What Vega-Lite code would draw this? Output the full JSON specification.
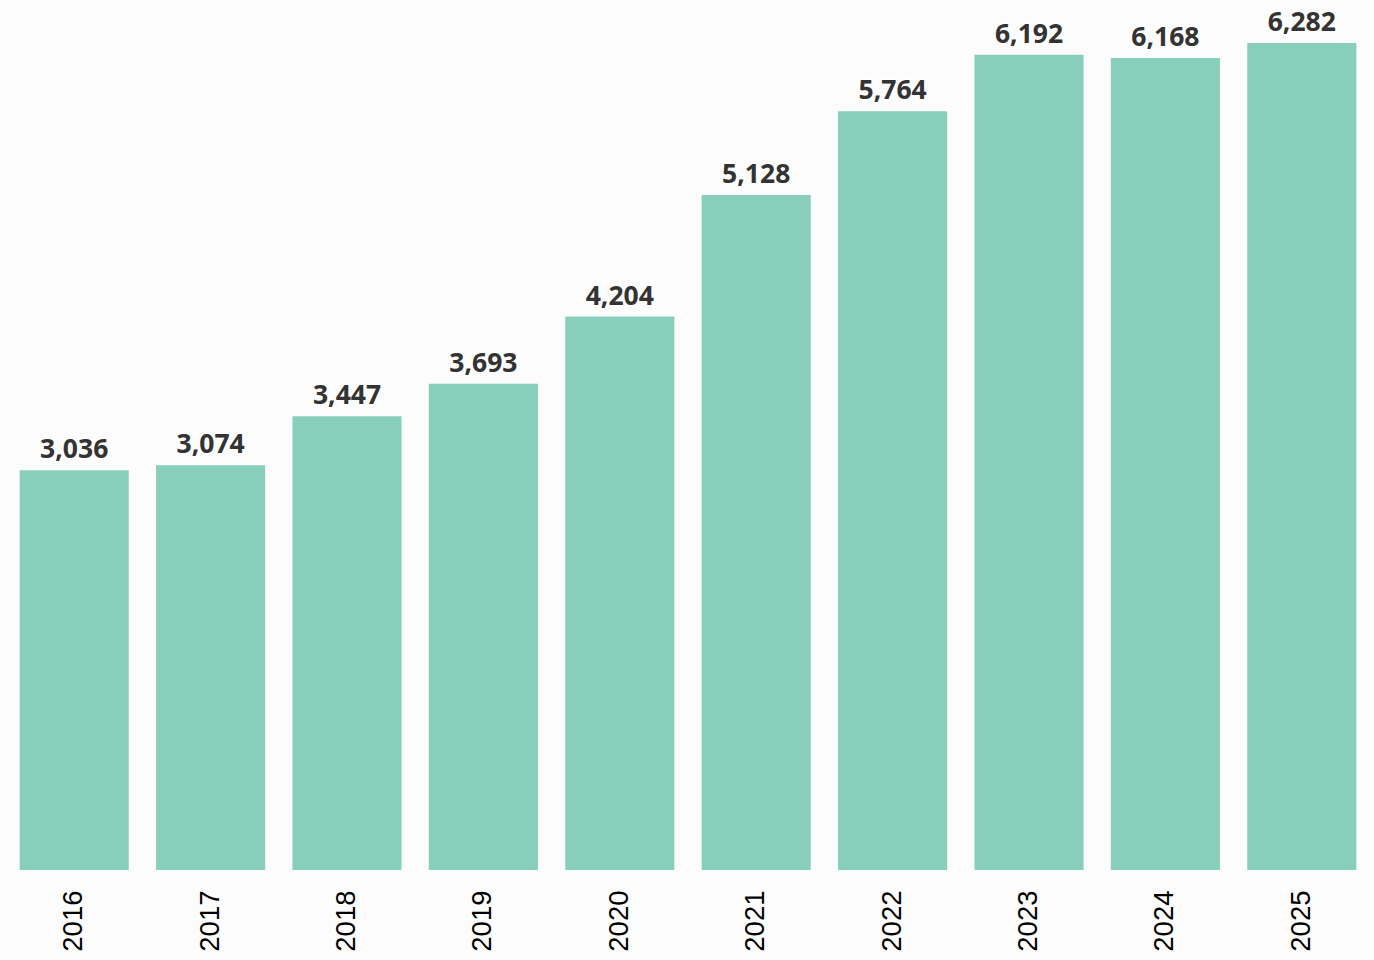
{
  "$schema": "https://vega.github.io/schema/vega-lite/v6.json",
  "autosize": {"type": "none"},
  "width": 1364,
  "height": 827,
  "padding": {"left": 6, "top": 43, "right": 4, "bottom": 90},
  "background": "#fcfcfc",
  "config": {"view": {"stroke": null}},
  "data": {"values": [
    {"year": "2016", "value": 3036},
    {"year": "2017", "value": 3074},
    {"year": "2018", "value": 3447},
    {"year": "2019", "value": 3693},
    {"year": "2020", "value": 4204},
    {"year": "2021", "value": 5128},
    {"year": "2022", "value": 5764},
    {"year": "2023", "value": 6192},
    {"year": "2024", "value": 6168},
    {"year": "2025", "value": 6282}
  ]},
  "encoding": {
    "x": {"field": "year", "type": "nominal", "title": null,
      "scale": {"paddingInner": 0.2, "paddingOuter": 0.1},
      "axis": {"domain": false, "ticks": false, "labelAngle": -90, "labelPadding": 20, "labelFontSize": 27.5, "labelFont": "Liberation Sans", "labelColor": "#000000", "labelAlign": "right", "labelBaseline": "middle"}},
    "y": {"field": "value", "type": "quantitative", "title": null,
      "scale": {"domain": [0, 6282], "nice": false, "zero": true},
      "axis": null}
  },
  "layer": [
    {"mark": {"type": "bar", "color": "#88cfbb"}},
    {"mark": {"type": "text", "dy": -12, "baseline": "alphabetic", "font": "Open Sans", "fontWeight": "bold", "fontSize": 26.5, "color": "#333333", "stroke": "#ffffff", "strokeWidth": 4, "strokeOpacity": 0.9},
     "encoding": {"text": {"field": "value", "type": "quantitative", "format": ",d"}}},
    {"mark": {"type": "text", "dy": -12, "baseline": "alphabetic", "font": "Open Sans", "fontWeight": "bold", "fontSize": 26.5, "color": "#333333"},
     "encoding": {"text": {"field": "value", "type": "quantitative", "format": ",d"}}}
  ]
}
